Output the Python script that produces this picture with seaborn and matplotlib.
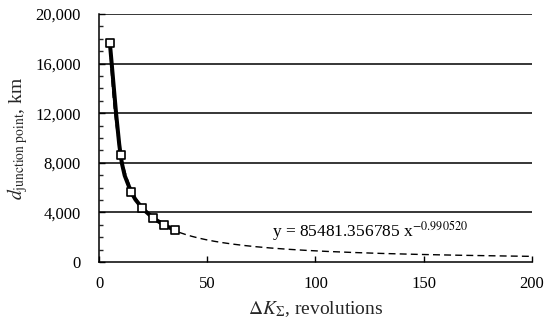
import numpy as np
import pandas as pd
import matplotlib
matplotlib.use("Agg")
import matplotlib.pyplot as plt
from matplotlib.path import Path
from matplotlib.patches import PathPatch
from matplotlib.ticker import MultipleLocator, FuncFormatter
import seaborn as sns

# data
revolutions = [5, 10, 15, 20, 25, 30, 35]
distance_km = [17700, 8620, 5650, 4370, 3570, 3000, 2580]

# power trendline shown on the chart: y = a * x^b
coef_a = 85481.356785
coef_b = -0.990520
trend_x_max = 200

df = pd.DataFrame({"K": revolutions, "d": distance_km})
trend_x = np.linspace(min(revolutions), trend_x_max, 300)
trend = pd.DataFrame({"K": trend_x, "d": coef_a * trend_x ** coef_b})

sns.set_theme(style="white")
plt.rcParams["font.family"] = ["Liberation Serif", "DejaVu Serif"]
plt.rcParams["mathtext.fontset"] = "stix"

fig = plt.figure(figsize=(5.5, 3.27), dpi=100)
ax = fig.add_axes([0.18, 0.199, 0.787, 0.758])

# horizontal grid
for yv in range(4000, 20001, 4000):
    ax.axhline(yv, color="black", lw=1.1, zorder=1)

sns.lineplot(data=trend, x="K", y="d", ax=ax, color="black", lw=1.0,
             zorder=2)
ax.lines[-1].set_dashes([5, 3])

# smoothed line through the points (Catmull-Rom style Bezier, like Excel)
pts = df[["K", "d"]].to_numpy(dtype=float)
verts = [pts[0]]
codes = [Path.MOVETO]
n = len(pts)
for i in range(n - 1):
    p0 = pts[i - 1] if i > 0 else pts[i]
    p1 = pts[i]
    p2 = pts[i + 1]
    p3 = pts[i + 2] if i + 2 < n else pts[i + 1]
    c1 = p1 + (p2 - p0) / 6
    c2 = p2 - (p3 - p1) / 6
    verts += [c1, c2, p2]
    codes += [Path.CURVE4] * 3
ax.add_patch(PathPatch(Path(verts, codes), fill=False, edgecolor="black",
                       lw=2.9, capstyle="round", joinstyle="round", zorder=3))

sns.scatterplot(data=df, x="K", y="d", ax=ax, marker="s", s=38,
                facecolor="white", edgecolor="black", linewidth=1.2, zorder=4)

ax.text(80, 2500, r"y = 85481.356785 x$^{-0.990520}$", fontsize=12.5,
        va="center", ha="left", color="black")

ax.set_xlim(0, 200)
ax.set_ylim(0, 20000)
ax.xaxis.set_major_locator(MultipleLocator(50))
ax.yaxis.set_major_locator(MultipleLocator(4000))
ax.yaxis.set_minor_locator(MultipleLocator(1000))
ax.yaxis.set_major_formatter(FuncFormatter(lambda v, p: f"{int(v):,}"))
ax.tick_params(axis="both", which="major", direction="in", length=4,
               width=1, colors="black", labelsize=12)
ax.tick_params(axis="y", which="major", pad=13)
ax.tick_params(axis="x", which="major", pad=10)
ax.tick_params(axis="y", which="minor", direction="in", length=3,
               width=1, left=True)
ax.tick_params(axis="x", bottom=True)
ax.tick_params(axis="y", left=True)

for side in ["top", "right"]:
    ax.spines[side].set_visible(False)
for side in ["left", "bottom"]:
    ax.spines[side].set_color("black")
    ax.spines[side].set_linewidth(1.1)

ax.set_xlabel(r"$\Delta K_{\Sigma}$, revolutions", fontsize=14, labelpad=5)
ax.set_ylabel(r"$d_{\mathrm{junction\ point}}$, km", fontsize=14, labelpad=4)
ax.grid(False)

fig.savefig("out.png", dpi=100)
